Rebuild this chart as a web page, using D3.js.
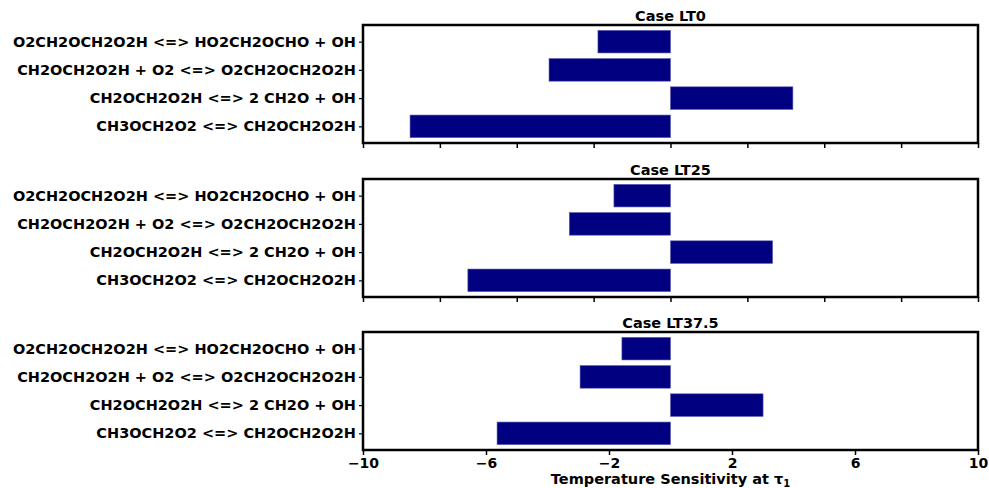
<!DOCTYPE html>
<html>
<head>
<meta charset="utf-8">
<script src="https://cdn.jsdelivr.net/npm/d3@7"></script>
<style>
  body { margin: 0; background: #fff; }
  text { font-family: "DejaVu Sans", sans-serif; font-weight: bold; fill: #000; }
</style>
</head>
<body>
<div id="vis"></div>
<script>
// reactions, bottom to top (matplotlib barh order)
const reactions = [
    "CH3OCH2O2 <=> CH2OCH2O2H",
    "CH2OCH2O2H <=> 2 CH2O + OH",
    "CH2OCH2O2H + O2 <=> O2CH2OCH2O2H",
    "O2CH2OCH2O2H <=> HO2CH2OCHO + OH"
];
const cases = ["Case LT0", "Case LT25", "Case LT37.5"];
const sensLT0 = [-8.47, 3.98, -3.95, -2.36];
const sensLT25 = [-6.59, 3.32, -3.29, -1.84];
const sensLT375 = [-5.64, 3.01, -2.94, -1.58];
const bottomTicks = [-10, -6, -2, 2, 6, 10];
const topTicks = [-10, -7.5, -5, -2.5, 0, 2.5, 5, 7.5, 10];

const values = [sensLT0, sensLT25, sensLT375];

const width = 989, height = 488;
const left = 363, right = 978;
const panelTops = [25, 179, 332];
const panelH = 118;

const svg = d3.select("#vis").append("svg")
    .attr("width", width)
    .attr("height", height);

const x = d3.scaleLinear().domain([-10, 10]).range([left, right]);

cases.forEach((c, i) => {
    const top = panelTops[i];
    const y = d3.scaleLinear().domain([-0.59, 3.59]).range([top + panelH, top]);
    const g = svg.append("g");

    // bars
    g.selectAll("rect.bar")
        .data(values[i])
        .join("rect")
        .attr("class", "bar")
        .attr("x", d => x(Math.min(0, d)))
        .attr("width", d => Math.abs(x(d) - x(0)))
        .attr("y", (d, j) => y(j + 0.4))
        .attr("height", (d, j) => y(j - 0.4) - y(j + 0.4))
        .attr("fill", "#000080")
        .attr("stroke", "#5a5ab0")
        .attr("stroke-width", 0.6);

    // y axis
    const yAxis = g.append("g")
        .attr("transform", `translate(${left},0)`)
        .call(d3.axisLeft(y).tickValues([0, 1, 2, 3]).tickFormat(j => reactions[j]).tickSize(4).tickPadding(3));
    yAxis.select(".domain").remove();
    yAxis.selectAll("line").attr("stroke", "#000").attr("stroke-width", 1.2);
    yAxis.selectAll("text").style("font-size", "14.5px");

    // x axis
    const last = i === cases.length - 1;
    const xAxis = g.append("g")
        .attr("transform", `translate(0,${top + panelH})`)
        .call(d3.axisBottom(x)
            .tickValues(last ? bottomTicks : topTicks)
            .tickFormat(last ? (d => d3.format("d")(d).replace("-", "\u2212")) : "")
            .tickSize(5).tickPadding(3));
    xAxis.select(".domain").remove();
    xAxis.selectAll("line").attr("stroke", "#000").attr("stroke-width", 1.5);
    xAxis.selectAll("text").style("font-size", "14px");

    // frame
    g.append("rect")
        .attr("x", left)
        .attr("y", top)
        .attr("width", right - left)
        .attr("height", panelH)
        .attr("fill", "none")
        .attr("stroke", "#000")
        .attr("stroke-width", 2.5);

    // title
    g.append("text")
        .attr("x", (left + right) / 2)
        .attr("y", top - 4)
        .attr("text-anchor", "middle")
        .style("font-size", "14.5px")
        .text(c);
});

// x label
const xl = svg.append("text")
    .attr("x", (left + right) / 2)
    .attr("y", 484)
    .attr("text-anchor", "middle")
    .style("font-size", "14.5px");
xl.append("tspan").text("Temperature Sensitivity at \u03c4");
xl.append("tspan").attr("dy", 3).style("font-size", "10px").text("1");
</script>
</body>
</html>
